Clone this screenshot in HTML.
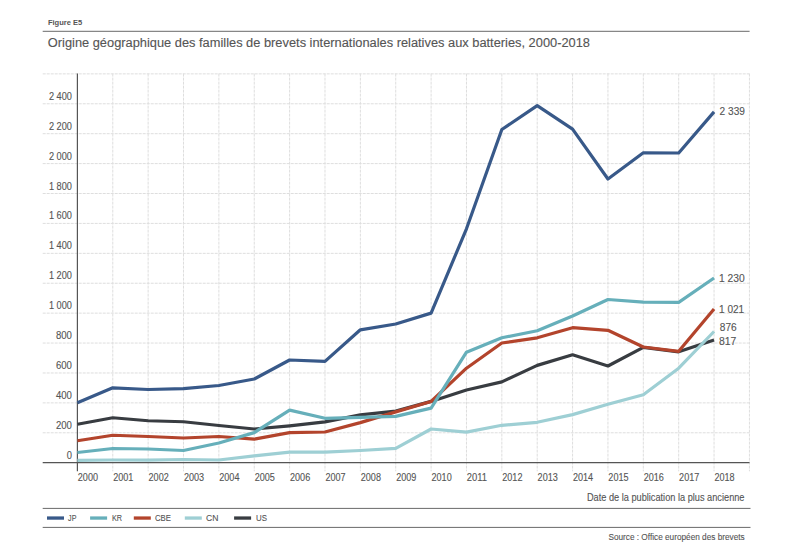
<!DOCTYPE html>
<html><head><meta charset="utf-8"><style>
html,body{margin:0;padding:0;background:#fff;}
svg{display:block;}
text{font-family:"Liberation Sans", sans-serif;fill:#555;stroke:#555;stroke-width:0.12px;}
</style></head><body>
<svg width="800" height="553" viewBox="0 0 800 553">
<rect width="800" height="553" fill="#fff"/>

<text x="47.9" y="25.3" font-size="8.1" font-weight="bold" style="stroke-width:0" fill="#5a5a5a" textLength="34.4" lengthAdjust="spacingAndGlyphs">Figure E5</text>
<line x1="42.7" y1="31.3" x2="749.6" y2="31.3" stroke="#6a6a6a" stroke-width="1"/>
<text x="47.8" y="46.8" font-size="12.3" fill="#555" textLength="542.2" lengthAdjust="spacingAndGlyphs">Origine géographique des familles de brevets internationales relatives aux batteries, 2000-2018</text>
<line x1="42.7" y1="432.79" x2="749.5" y2="432.79" stroke="#dedede" stroke-width="1" stroke-dasharray="3 1"/>
<line x1="42.7" y1="402.88" x2="749.5" y2="402.88" stroke="#dedede" stroke-width="1" stroke-dasharray="3 1"/>
<line x1="42.7" y1="372.97" x2="749.5" y2="372.97" stroke="#dedede" stroke-width="1" stroke-dasharray="3 1"/>
<line x1="42.7" y1="343.06" x2="749.5" y2="343.06" stroke="#dedede" stroke-width="1" stroke-dasharray="3 1"/>
<line x1="42.7" y1="313.15" x2="749.5" y2="313.15" stroke="#dedede" stroke-width="1" stroke-dasharray="3 1"/>
<line x1="42.7" y1="283.24" x2="749.5" y2="283.24" stroke="#dedede" stroke-width="1" stroke-dasharray="3 1"/>
<line x1="42.7" y1="253.33" x2="749.5" y2="253.33" stroke="#dedede" stroke-width="1" stroke-dasharray="3 1"/>
<line x1="42.7" y1="223.42" x2="749.5" y2="223.42" stroke="#dedede" stroke-width="1" stroke-dasharray="3 1"/>
<line x1="42.7" y1="193.51" x2="749.5" y2="193.51" stroke="#dedede" stroke-width="1" stroke-dasharray="3 1"/>
<line x1="42.7" y1="163.60" x2="749.5" y2="163.60" stroke="#dedede" stroke-width="1" stroke-dasharray="3 1"/>
<line x1="42.7" y1="133.69" x2="749.5" y2="133.69" stroke="#dedede" stroke-width="1" stroke-dasharray="3 1"/>
<line x1="42.7" y1="103.78" x2="749.5" y2="103.78" stroke="#dedede" stroke-width="1" stroke-dasharray="3 1"/>
<line x1="42.7" y1="73.87" x2="749.5" y2="73.87" stroke="#dedede" stroke-width="1" stroke-dasharray="3 1"/>
<line x1="112.77" y1="73.6" x2="112.77" y2="471.3" stroke="#dedede" stroke-width="1" stroke-dasharray="3 1"/>
<line x1="148.14" y1="73.6" x2="148.14" y2="471.3" stroke="#dedede" stroke-width="1" stroke-dasharray="3 1"/>
<line x1="183.51" y1="73.6" x2="183.51" y2="471.3" stroke="#dedede" stroke-width="1" stroke-dasharray="3 1"/>
<line x1="218.88" y1="73.6" x2="218.88" y2="471.3" stroke="#dedede" stroke-width="1" stroke-dasharray="3 1"/>
<line x1="254.25" y1="73.6" x2="254.25" y2="471.3" stroke="#dedede" stroke-width="1" stroke-dasharray="3 1"/>
<line x1="289.62" y1="73.6" x2="289.62" y2="471.3" stroke="#dedede" stroke-width="1" stroke-dasharray="3 1"/>
<line x1="324.99" y1="73.6" x2="324.99" y2="471.3" stroke="#dedede" stroke-width="1" stroke-dasharray="3 1"/>
<line x1="360.36" y1="73.6" x2="360.36" y2="471.3" stroke="#dedede" stroke-width="1" stroke-dasharray="3 1"/>
<line x1="395.73" y1="73.6" x2="395.73" y2="471.3" stroke="#dedede" stroke-width="1" stroke-dasharray="3 1"/>
<line x1="431.10" y1="73.6" x2="431.10" y2="471.3" stroke="#dedede" stroke-width="1" stroke-dasharray="3 1"/>
<line x1="466.47" y1="73.6" x2="466.47" y2="471.3" stroke="#dedede" stroke-width="1" stroke-dasharray="3 1"/>
<line x1="501.84" y1="73.6" x2="501.84" y2="471.3" stroke="#dedede" stroke-width="1" stroke-dasharray="3 1"/>
<line x1="537.21" y1="73.6" x2="537.21" y2="471.3" stroke="#dedede" stroke-width="1" stroke-dasharray="3 1"/>
<line x1="572.58" y1="73.6" x2="572.58" y2="471.3" stroke="#dedede" stroke-width="1" stroke-dasharray="3 1"/>
<line x1="607.95" y1="73.6" x2="607.95" y2="471.3" stroke="#dedede" stroke-width="1" stroke-dasharray="3 1"/>
<line x1="643.32" y1="73.6" x2="643.32" y2="471.3" stroke="#dedede" stroke-width="1" stroke-dasharray="3 1"/>
<line x1="678.69" y1="73.6" x2="678.69" y2="471.3" stroke="#dedede" stroke-width="1" stroke-dasharray="3 1"/>
<line x1="714.06" y1="73.6" x2="714.06" y2="471.3" stroke="#dedede" stroke-width="1" stroke-dasharray="3 1"/>
<line x1="749.43" y1="73.6" x2="749.43" y2="471.3" stroke="#dedede" stroke-width="1" stroke-dasharray="3 1"/>
<text x="66.70" y="458.70" font-size="10" textLength="5.2" lengthAdjust="spacingAndGlyphs">0</text>
<text x="55.90" y="428.79" font-size="10" textLength="16.0" lengthAdjust="spacingAndGlyphs">200</text>
<text x="55.90" y="398.88" font-size="10" textLength="16.0" lengthAdjust="spacingAndGlyphs">400</text>
<text x="55.90" y="368.97" font-size="10" textLength="16.0" lengthAdjust="spacingAndGlyphs">600</text>
<text x="55.90" y="339.06" font-size="10" textLength="16.0" lengthAdjust="spacingAndGlyphs">800</text>
<text x="48.90" y="309.15" font-size="10" textLength="23.0" lengthAdjust="spacingAndGlyphs">1 000</text>
<text x="48.90" y="279.24" font-size="10" textLength="23.0" lengthAdjust="spacingAndGlyphs">1 200</text>
<text x="48.90" y="249.33" font-size="10" textLength="23.0" lengthAdjust="spacingAndGlyphs">1 400</text>
<text x="48.90" y="219.42" font-size="10" textLength="23.0" lengthAdjust="spacingAndGlyphs">1 600</text>
<text x="48.90" y="189.51" font-size="10" textLength="23.0" lengthAdjust="spacingAndGlyphs">1 800</text>
<text x="48.90" y="159.60" font-size="10" textLength="23.0" lengthAdjust="spacingAndGlyphs">2 000</text>
<text x="48.90" y="129.69" font-size="10" textLength="23.0" lengthAdjust="spacingAndGlyphs">2 200</text>
<text x="48.90" y="99.78" font-size="10" textLength="23.0" lengthAdjust="spacingAndGlyphs">2 400</text>
<text x="77.80" y="480.8" font-size="10.4" textLength="20.2" lengthAdjust="spacingAndGlyphs">2000</text>
<text x="113.17" y="480.8" font-size="10.4" textLength="20.2" lengthAdjust="spacingAndGlyphs">2001</text>
<text x="148.54" y="480.8" font-size="10.4" textLength="20.2" lengthAdjust="spacingAndGlyphs">2002</text>
<text x="183.91" y="480.8" font-size="10.4" textLength="20.2" lengthAdjust="spacingAndGlyphs">2003</text>
<text x="219.28" y="480.8" font-size="10.4" textLength="20.2" lengthAdjust="spacingAndGlyphs">2004</text>
<text x="254.65" y="480.8" font-size="10.4" textLength="20.2" lengthAdjust="spacingAndGlyphs">2005</text>
<text x="290.02" y="480.8" font-size="10.4" textLength="20.2" lengthAdjust="spacingAndGlyphs">2006</text>
<text x="325.39" y="480.8" font-size="10.4" textLength="20.2" lengthAdjust="spacingAndGlyphs">2007</text>
<text x="360.76" y="480.8" font-size="10.4" textLength="20.2" lengthAdjust="spacingAndGlyphs">2008</text>
<text x="396.13" y="480.8" font-size="10.4" textLength="20.2" lengthAdjust="spacingAndGlyphs">2009</text>
<text x="431.50" y="480.8" font-size="10.4" textLength="20.2" lengthAdjust="spacingAndGlyphs">2010</text>
<text x="466.87" y="480.8" font-size="10.4" textLength="20.2" lengthAdjust="spacingAndGlyphs">2011</text>
<text x="502.24" y="480.8" font-size="10.4" textLength="20.2" lengthAdjust="spacingAndGlyphs">2012</text>
<text x="537.61" y="480.8" font-size="10.4" textLength="20.2" lengthAdjust="spacingAndGlyphs">2013</text>
<text x="572.98" y="480.8" font-size="10.4" textLength="20.2" lengthAdjust="spacingAndGlyphs">2014</text>
<text x="608.35" y="480.8" font-size="10.4" textLength="20.2" lengthAdjust="spacingAndGlyphs">2015</text>
<text x="643.72" y="480.8" font-size="10.4" textLength="20.2" lengthAdjust="spacingAndGlyphs">2016</text>
<text x="679.09" y="480.8" font-size="10.4" textLength="20.2" lengthAdjust="spacingAndGlyphs">2017</text>
<text x="714.46" y="480.8" font-size="10.4" textLength="20.2" lengthAdjust="spacingAndGlyphs">2018</text>
<line x1="42.7" y1="462.7" x2="749.5" y2="462.7" stroke="#555" stroke-width="1.2"/>
<line x1="77.4" y1="73.6" x2="77.4" y2="471.3" stroke="#555" stroke-width="1.2"/>
<polyline points="77.40,424.25 112.77,417.75 148.14,420.75 183.51,421.75 218.88,425.50 254.25,429.00 289.62,425.80 324.99,421.90 360.36,414.90 395.73,411.10 431.10,401.40 466.47,390.00 501.84,381.90 537.21,365.40 572.58,354.80 607.95,366.00 643.32,347.30 678.69,351.80 714.06,340.00" fill="none" stroke="#383c41" stroke-width="3.2" stroke-linejoin="round" stroke-linecap="butt"/>
<polyline points="77.40,440.75 112.77,435.25 148.14,436.50 183.51,438.00 218.88,436.50 254.25,439.10 289.62,432.60 324.99,432.00 360.36,422.60 395.73,411.90 431.10,401.50 466.47,368.20 501.84,343.00 537.21,337.80 572.58,327.70 607.95,330.30 643.32,347.00 678.69,351.30 714.06,309.00" fill="none" stroke="#b3442c" stroke-width="3.2" stroke-linejoin="round" stroke-linecap="butt"/>
<polyline points="77.40,460.30 112.77,460.00 148.14,460.20 183.51,459.50 218.88,460.00 254.25,455.80 289.62,452.10 324.99,452.10 360.36,450.50 395.73,448.40 431.10,429.00 466.47,432.10 501.84,425.30 537.21,422.30 572.58,414.60 607.95,404.30 643.32,394.70 678.69,368.20 714.06,331.50" fill="none" stroke="#9ecfd4" stroke-width="3.2" stroke-linejoin="round" stroke-linecap="butt"/>
<polyline points="77.40,452.50 112.77,448.50 148.14,449.00 183.51,450.50 218.88,443.00 254.25,432.60 289.62,410.10 324.99,418.30 360.36,417.30 395.73,416.40 431.10,408.10 466.47,352.20 501.84,337.80 537.21,330.70 572.58,316.00 607.95,299.50 643.32,302.20 678.69,302.40 714.06,278.00" fill="none" stroke="#66afba" stroke-width="3.2" stroke-linejoin="round" stroke-linecap="butt"/>
<polyline points="77.40,402.70 112.77,387.80 148.14,389.50 183.51,388.70 218.88,385.50 254.25,379.00 289.62,360.00 324.99,361.40 360.36,329.80 395.73,324.00 431.10,313.10 466.47,228.80 501.84,129.50 537.21,105.70 572.58,129.10 607.95,179.00 643.32,152.80 678.69,153.00 714.06,111.90" fill="none" stroke="#385989" stroke-width="3.2" stroke-linejoin="round" stroke-linecap="butt"/>
<text x="719.6" y="115" font-size="10.3" textLength="25.3" lengthAdjust="spacingAndGlyphs">2 339</text>
<text x="719" y="281.7" font-size="10.3" textLength="25.7" lengthAdjust="spacingAndGlyphs">1 230</text>
<text x="719" y="312.5" font-size="10.3" textLength="25.2" lengthAdjust="spacingAndGlyphs">1 021</text>
<text x="719.8" y="331.2" font-size="10.3" textLength="16.9" lengthAdjust="spacingAndGlyphs">876</text>
<text x="719" y="344.6" font-size="10.3" textLength="17.4" lengthAdjust="spacingAndGlyphs">817</text>
<text x="586.9" y="501.2" font-size="10.2" textLength="157.6" lengthAdjust="spacingAndGlyphs">Date de la publication la plus ancienne</text>
<line x1="42.7" y1="508.4" x2="750.5" y2="508.4" stroke="#6a6a6a" stroke-width="1"/>
<line x1="42.7" y1="527.4" x2="750.5" y2="527.4" stroke="#6a6a6a" stroke-width="1"/>
<rect x="47" y="516.4" width="17" height="3.3" fill="#385989"/>
<text x="68.1" y="520.6" font-size="9.8" textLength="8.3" lengthAdjust="spacingAndGlyphs">JP</text>
<rect x="90.1" y="516.4" width="17" height="3.3" fill="#66afba"/>
<text x="112" y="520.6" font-size="9.8" textLength="10.1" lengthAdjust="spacingAndGlyphs">KR</text>
<rect x="133.8" y="516.4" width="17" height="3.3" fill="#b3442c"/>
<text x="155" y="520.6" font-size="9.8" textLength="16" lengthAdjust="spacingAndGlyphs">CBE</text>
<rect x="184.8" y="516.4" width="17" height="3.3" fill="#9ecfd4"/>
<text x="206" y="520.6" font-size="9.8" textLength="12.4" lengthAdjust="spacingAndGlyphs">CN</text>
<rect x="234.1" y="516.4" width="17" height="3.3" fill="#383c41"/>
<text x="256" y="520.6" font-size="9.8" textLength="11" lengthAdjust="spacingAndGlyphs">US</text>
<text x="608.4" y="539.6" font-size="9.7" textLength="136.3" lengthAdjust="spacingAndGlyphs">Source : Office européen des brevets</text>
</svg></body></html>
